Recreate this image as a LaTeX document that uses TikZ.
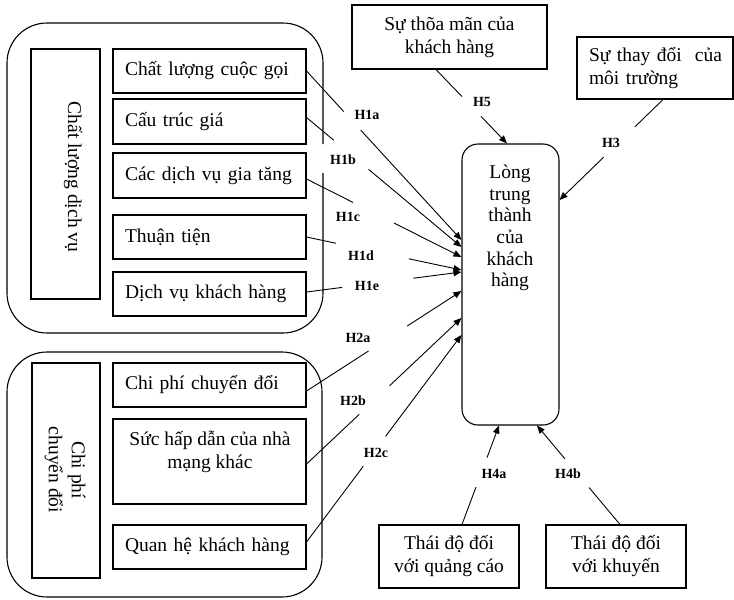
\documentclass[tikz,border=0pt]{standalone}
\usepackage{fontspec}
\setmainfont{Liberation Serif}
\usetikzlibrary{calc,arrows.meta}

\begin{document}
\begin{tikzpicture}[x=1pt,y=-1pt,
  every node/.style={font=\fontsize{19.5}{23}\selectfont},
  box/.style={draw, line width=1.1pt, inner sep=0pt},
  item/.style={box, minimum width=193pt, text width=169pt, align=left, inner xsep=12pt},
  grp/.style={line width=1.1pt, rounded corners=40pt},
  conn/.style={line width=0.9pt},
  arr/.style={-{Triangle[length=8pt,width=6.5pt]}},
  hyp/.style={font=\fontsize{14}{16}\bfseries\selectfont, inner sep=1pt}
]
\useasboundingbox (0,0) rectangle (734,600);

% ---- group: service quality (right border broken beside H1b)
\draw[grp] (323,173) -- (323,333) -- (7,333) -- (7,23) -- (323,23) -- (323,144);
\node[box, minimum width=69pt, minimum height=250pt] (sqbox) at (65.5,174) {};
\node[rotate=-90] (sqtext) at (73,177) {Chất lượng dịch vụ};
\node[item, minimum height=44pt] (chat)  at (209.5,71)    {Chất lượng cuộc gọi};
\node[item, minimum height=45pt] (gia)   at (209.5,121.5) {Cấu trúc giá};
\node[item, minimum height=45pt] (gtang) at (209.5,175.5) {Các dịch vụ gia tăng};
\node[item, minimum height=44pt] (tien)  at (209.5,237)   {Thuận tiện};
\node[item, minimum height=44pt] (dvkh)  at (209.5,294)   {Dịch vụ khách hàng};

% ---- group: switching cost
\draw[grp] (7,352) rectangle (322,597);
\node[box, minimum width=68pt, minimum height=215pt] (scbox) at (66,470.5) {};
\node[rotate=-90, align=center] (sctext) at (65,470) {Chi phí\\chuyển đổi};
\node[item, minimum height=44pt] (cpcd) at (209.5,385) {Chi phí chuyển đổi};
\node[box, minimum width=193pt, minimum height=85pt] (hap) at (209.5,461.5) {};
\node[align=center] (haptext) at (210,452) {Sức hấp dẫn của nhà\\mạng khác};
\node[item, minimum height=44pt] (qhkh) at (209.5,547) {Quan hệ khách hàng};

% ---- loyalty
\node[box, rounded corners=16pt, minimum width=97pt, minimum height=281pt] (loy) at (510.5,284.5) {};
\node[align=center, font=\fontsize{19.5}{21.6}\selectfont] (loytext) at (510,228) {Lòng\\trung\\thành\\của\\khách\\hàng};

% ---- other factors
\node[box, minimum width=195pt, minimum height=64pt, align=center] (sat) at (449.5,37) {Sự thõa mãn của\\khách hàng};
\node[box, minimum width=156pt, minimum height=62pt, text width=132pt, inner xsep=12pt, align=left] (env) at (655,68) {\mbox{Sự thay đổi\ \ của}\\môi trường};
\node[box, minimum width=140pt, minimum height=63pt, align=center] (qc) at (449,556.5) {Thái độ đối\\với quảng cáo};
\node[box, minimum width=140pt, minimum height=63pt, align=center] (km) at (616,556.5) {Thái độ đối\\với khuyến};

% ---- connector end points
\coordinate (s1a) at (chat.east);
\coordinate (s1b) at ($(gia.east)+(0,-4)$);
\coordinate (s1c) at ($(gtang.east)+(0,3.5)$);
\coordinate (s1d) at (tien.east);
\coordinate (s1e) at ($(dvkh.east)+(0,-2)$);
\coordinate (s2a) at ($(cpcd.east)+(0,6)$);
\coordinate (s2b) at ($(hap.east)+(0,2.5)$);
\coordinate (s2c) at ($(qhkh.east)+(0,-5)$);
\coordinate (s5)  at ($(sat.south)+(-13.5,0)$);
\coordinate (s3)  at ($(env.south)+(8,0)$);
\coordinate (s4a) at ($(qc.north)+(13,0)$);
\coordinate (s4b) at ($(km.north)+(4,0)$);

\coordinate (t1a) at ($(loy.west)+(0,-44.5)$);
\coordinate (t1b) at ($(loy.west)+(0,-37.5)$);
\coordinate (t1c) at ($(loy.west)+(0,-27.5)$);
\coordinate (t1d) at ($(loy.west)+(0,-14.5)$);
\coordinate (t1e) at ($(loy.west)+(0,-12.5)$);
\coordinate (t2a) at ($(loy.west)+(0,6.5)$);
\coordinate (t2b) at ($(loy.west)+(0,33.5)$);
\coordinate (t2c) at ($(loy.west)+(0,50.5)$);
\coordinate (t5)  at ($(loy.north)+(-3.5,0)$);
\coordinate (t3)  at ($(loy.east)+(0,-84.5)$);
\coordinate (t4a) at ($(loy.south)+(-11.5,0)$);
\coordinate (t4b) at ($(loy.south)+(26.5,0)$);

% ---- hypothesis paths: a line, a gap beside the label, then the arrow
\foreach \s/\t/\a/\b in {
  s1a/t1a/0.24/0.35, s1b/t1b/0.175/0.40, s1c/t1c/0.30/0.565,
  s1d/t1d/0.19/0.66, s1e/t1e/0.23/0.69, s2a/t2a/0.40/0.65,
  s2b/t2b/0.34/0.536, s2c/t2c/0.366/0.51, s5/t5/0.366/0.634,
  s3/t3/0.272/0.573, s4a/t4a/0.378/0.676, s4b/t4b/0.373/0.663} {
  \draw[conn] (\s) -- ($(\s)!\a!(\t)$);
  \draw[conn,arr] ($(\s)!\b!(\t)$) -- (\t);
}

% ---- hypothesis labels
\node[hyp] (h1a) at (367,115) {H1a};
\node[hyp] (h1b) at (343,160) {H1b};
\node[hyp] (h1c) at (348,217) {H1c};
\node[hyp] (h1d) at (361,256) {H1d};
\node[hyp] (h1e) at (367,286) {H1e};
\node[hyp] (h2a) at (358,338) {H2a};
\node[hyp] (h2b) at (353,401) {H2b};
\node[hyp] (h2c) at (376,453) {H2c};
\node[hyp] (h5)  at (482,102) {H5};
\node[hyp] (h3)  at (611,143) {H3};
\node[hyp] (h4a) at (494,474) {H4a};
\node[hyp] (h4b) at (568,474) {H4b};
\end{tikzpicture}
\end{document}
